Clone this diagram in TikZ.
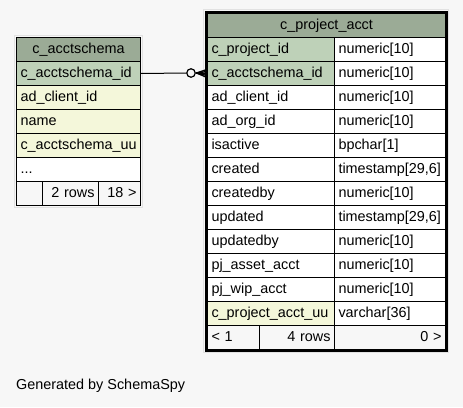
\documentclass[tikz,border=0pt]{standalone}
\usepackage{fontspec}
\setmainfont{Liberation Sans}
\usetikzlibrary{positioning}
\definecolor{heading}{HTML}{9BAB96}
\definecolor{pkey}{HTML}{BED1B8}
\definecolor{indexed}{HTML}{F4F7DA}
\definecolor{canvas}{HTML}{F7F7F7}
\definecolor{shade}{HTML}{E2E2E2}
\tikzset{
  cell/.style={
    draw=black,
    line width=1pt,
    anchor=north west,
    minimum height=24pt,
    inner xsep=4pt,
    inner ysep=0pt,
    text height=10pt,
    text depth=3pt,
    font=\fontsize{14.4}{16}\selectfont
  },
  headcell/.style={cell,fill=heading,align=center},
  leftcell/.style={cell,text width=#1,align=left},
  rightcell/.style={cell,text width=#1,align=right},
  footcell/.style={fill=canvas},
  shadowbox/.style={draw=shade,line width=1pt},
  crowline/.style={line width=1.3pt}
}
\begin{document}
\begin{tikzpicture}[x=1pt,y=-1pt]
\fill[canvas] (0,0) rectangle (463,407);
\useasboundingbox (0,0) rectangle (463,407);

% c_acctschema
\draw[shadowbox] (14.5,35.5) rectangle (142,207);
\node[headcell,minimum width=124pt] (schema-head) at (16,37) {c\_acctschema};
\node[leftcell=116pt,fill=pkey] (schema-id) at (16,61) {c\_acctschema\_id};
\node[leftcell=116pt,fill=indexed] (schema-client) at (16,85) {ad\_client\_id};
\node[leftcell=116pt,fill=indexed] (schema-name) at (16,109) {name};
\node[leftcell=116pt,fill=indexed] (schema-uu) at (16,133) {c\_acctschema\_uu};
\node[leftcell=116pt,fill=white] (schema-more) at (16,157) {...};
\node[leftcell=18pt,footcell] (schema-parents) at (16,181) {};
\node[rightcell=48pt,footcell] (schema-rows) at (42,181) {2 rows};
\node[rightcell=34pt,footcell] (schema-kids) at (98,181) {18 >};

% c_project_acct
\draw[shadowbox] (203,9) rectangle (448.5,352.5);
\node[headcell,minimum width=238pt] (proj-head) at (207,13) {c\_project\_acct};
\foreach \col/\typ/\clr [count=\i] in {
  c\_project\_id/numeric[10]/pkey,
  c\_acctschema\_id/numeric[10]/pkey,
  ad\_client\_id/numeric[10]/white,
  ad\_org\_id/numeric[10]/white,
  isactive/bpchar[1]/white,
  created/{timestamp[29,6]}/white,
  createdby/numeric[10]/white,
  updated/{timestamp[29,6]}/white,
  updatedby/numeric[10]/white,
  pj\_asset\_acct/numeric[10]/white,
  pj\_wip\_acct/numeric[10]/white,
  c\_project\_acct\_uu/varchar[36]/indexed}{
  \node[leftcell=119pt,fill=\clr] (proj-\i) at (207,{13+24*\i}) {\col};
  \node[leftcell=103pt,fill=white] (proj-\i-type) at (334,{13+24*\i}) {\typ};
}
\node[leftcell=44pt,footcell] (proj-parents) at (207,325) {< 1};
\node[rightcell=67pt,footcell] (proj-rows) at (259,325) {4 rows};
\node[rightcell=103pt,footcell] (proj-kids) at (334,325) {0 >};
\draw[line width=2.5pt] (205.75,11.75) rectangle (446.25,350.25);

% relationship
\node[circle,draw=black,line width=1.2pt,fill=canvas,minimum size=8.5pt,inner sep=0pt] (odot) at (191,73) {};
\coordinate (crow) at (196.5,73);
\draw[line width=1pt] (schema-id.east) -- (odot.west);
\draw[crowline] (odot.east) -- (crow);
\draw[crowline] (crow) -- (proj-2.west);
\draw[crowline] (crow) -- ([yshift=4pt]proj-2.west);
\draw[crowline] (crow) -- ([yshift=-4pt]proj-2.west);
\draw[crowline] (crow) -- ([yshift=2pt]proj-2.west);
\draw[crowline] (crow) -- ([yshift=-2pt]proj-2.west);

\node[anchor=west,inner sep=0pt,font=\fontsize{14.4}{16}\selectfont] (credit) at (16,386) {Generated by SchemaSpy};
\end{tikzpicture}
\end{document}
